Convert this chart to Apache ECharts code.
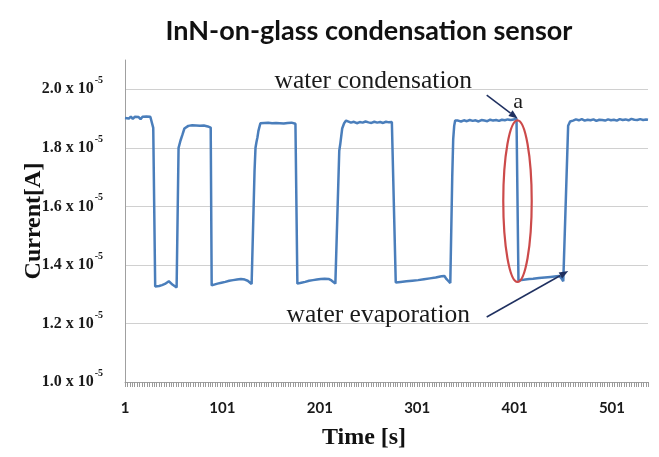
<!DOCTYPE html>
<html><head><meta charset="utf-8">
<script src="https://cdn.jsdelivr.net/npm/echarts@6/dist/echarts.min.js"></script>
<style>html,body{margin:0;padding:0;background:#fff}#c{width:659px;height:457px}</style>
</head><body><div id="c"></div>
<script>
// ---- data (time in s, current in units of 1e-5 A) ----
const timeS = [
  1,3,5,7,9,11,13,15,17,19,21,23,25,27,29,30,31,
  32,36,39,42,44,46,48,50,52,54,55,
  56,58,60,62,63,
  66,68,70,72,74,76,78,80,82,84,86,88,89,
  90,92,96,100,104,108,112,116,120,124,127,129,131,133,
  134,135,136,137,138,140,
  142,144,146,148,150,152,154,156,158,160,162,164,166,168,170,172,174,176,177,
  178,182,186,190,194,198,202,206,210,213,215,217,219,
  221,222,224,226,228,
  230,233,236,239,242,245,248,251,254,257,260,263,266,269,272,275,277,
  279,284,290,296,302,308,314,320,326,329,331,333,335,336,
  337,338,339,340,
  343,346,349,352,355,358,361,364,367,370,373,376,379,382,385,388,391,394,397,400,403,404,
  405,408,412,416,420,426,432,438,444,447,449,451,452,
  456,458,
  461,464,467,470,473,476,479,482,485,488,491,494,497,500,503,506,509,512,515,518,521,524,527,530,533,536,538
];
const currentE5 = [
  1.902,1.906,1.900,1.907,1.899,1.906,1.901,1.905,1.898,1.906,1.902,1.907,1.903,1.906,1.904,1.868,1.864,
  1.326,1.328,1.331,1.335,1.340,1.344,1.338,1.332,1.328,1.323,1.321,
  1.800,1.825,1.845,1.866,1.872,
  1.875,1.874,1.877,1.874,1.876,1.873,1.875,1.874,1.876,1.872,1.873,1.871,1.869,
  1.330,1.332,1.336,1.339,1.342,1.346,1.348,1.350,1.352,1.350,1.346,1.341,1.335,1.330,
  1.720,1.800,1.820,1.836,1.858,1.884,
  1.888,1.885,1.890,1.886,1.889,1.884,1.887,1.885,1.889,1.884,1.887,1.883,1.887,1.885,1.884,1.886,1.883,1.882,1.880,
  1.336,1.339,1.342,1.346,1.348,1.350,1.352,1.353,1.352,1.347,1.342,1.336,1.330,
  1.790,1.812,1.866,1.884,1.893,
  1.890,1.886,1.889,1.884,1.888,1.886,1.890,1.887,1.885,1.889,1.886,1.888,1.885,1.889,1.887,1.888,1.886,
  1.340,1.342,1.344,1.346,1.348,1.351,1.354,1.357,1.361,1.362,1.352,1.345,1.338,1.335,
  1.700,1.830,1.875,1.893,
  1.893,1.890,1.894,1.891,1.895,1.892,1.894,1.890,1.895,1.893,1.891,1.896,1.893,1.895,1.892,1.896,1.894,1.897,1.895,1.897,1.899,1.900,
  1.347,1.348,1.350,1.352,1.353,1.355,1.357,1.359,1.361,1.362,1.355,1.344,1.340,
  1.875,1.890,
  1.893,1.897,1.894,1.898,1.893,1.896,1.894,1.897,1.892,1.896,1.895,1.893,1.897,1.894,1.896,1.893,1.898,1.895,1.897,1.894,1.899,1.896,1.895,1.898,1.895,1.897,1.896
];
const yTickLabels = [1.0, 1.2, 1.4, 1.6, 1.8, 2.0];
const xTickLabels = [1, 101, 201, 301, 401, 501];
const chartTitle = 'InN-on-glass condensation sensor';
const xName = 'Time [s]';
const yName = 'Current[A]';
const condensationText = 'water condensation';
const evaporationText = 'water evaporation';
const markLetter = 'a';

// ---- annotation anchors (data coordinates) ----
const ellipseCenter = [404.0, 1.618];
const ellipseHalf = [14.6, 0.276];
const condArrow = [[372.4, 1.980], [404.2, 1.900]];
const evapArrow = [[372.4, 1.222], [456.1, 1.379]];
const letterPos = [404.6, 1.957];
const condTextPos = [357.3, 1.984];
const evapTextPos = [355.2, 1.185];

const pts = timeS.map((t, i) => [t, currentE5[i]]);
const serif = '"Liberation Serif", "Times New Roman", serif';
const sans = 'Lato, "Open Sans", sans-serif';

const chart = echarts.init(document.getElementById('c'), null, {renderer: 'canvas'});
chart.setOption({
  animation: false,
  backgroundColor: '#fff',
  title: {
    text: chartTitle, left: 364, top: 13, textAlign: 'center',
    textStyle: {fontFamily: sans, fontWeight: 'bold', fontSize: 27, color: '#111'}
  },
  grid: {left: 125, right: 11, top: 60, bottom: 75},
  xAxis: {
    type: 'value', min: 1, max: 538, interval: 2.5,
    name: xName, nameLocation: 'middle', nameGap: 44, nameMoveOverlap: false,
    nameTextStyle: {fontFamily: serif, fontWeight: 'bold', fontSize: 24, color: '#111', padding: [0, 45, 0, 0]},
    axisLine: {show: true, lineStyle: {color: '#a0a0a0', width: 1}},
    axisTick: {show: true, length: 5, lineStyle: {color: '#9a9a9a', width: 1}},
    splitLine: {show: false},
    axisLabel: {
      margin: 19, fontFamily: sans, fontWeight: 'bold', fontSize: 15, color: '#1a1a1a',
      formatter: v => {
        const r = Math.round(v);
        return (Math.abs(v - r) < 1e-6 && xTickLabels.includes(r)) ? String(r) : '';
      }
    }
  },
  yAxis: {
    type: 'value', min: 1.0, max: 2.1, interval: 0.2,
    name: yName, nameLocation: 'middle', nameGap: 79, nameRotate: 90, nameMoveOverlap: false,
    nameTextStyle: {fontFamily: serif, fontWeight: 'bold', fontSize: 24, color: '#111'},
    axisLine: {show: true, lineStyle: {color: '#a0a0a0', width: 1}},
    axisTick: {show: false},
    splitLine: {show: true, showMaxLine: false, lineStyle: {color: '#d0d0d0', width: 1.2}},
    axisLabel: {
      margin: 22,
      formatter: v => {
        const hit = yTickLabels.find(t => Math.abs(t - v) < 1e-6);
        return hit === undefined ? '' : '{m|' + hit.toFixed(1) + ' x 10}{s|-5}';
      },
      rich: {
        m: {fontFamily: serif, fontWeight: 'bold', fontSize: 16, color: '#1a1a1a', lineHeight: 16},
        s: {fontFamily: serif, fontWeight: 'bold', fontSize: 10, color: '#1a1a1a', lineHeight: 10, padding: [0, 0, 17, 1]}
      }
    }
  },
  series: [{
    type: 'line', data: pts, showSymbol: false, symbol: 'none',
    lineStyle: {color: '#4a7ebb', width: 2.5}, z: 3
  }]
});

const P = (d) => chart.convertToPixel({gridIndex: 0}, d);
function arrow(a, b, color) {
  const p0 = P(a), p1 = P(b);
  const ang = Math.atan2(p1[1] - p0[1], p1[0] - p0[0]);
  const L = 9, W = 3.5;
  const bx = p1[0] - L * Math.cos(ang), by = p1[1] - L * Math.sin(ang);
  const nx = -Math.sin(ang) * W, ny = Math.cos(ang) * W;
  return [
    {type: 'line', z: 20, shape: {x1: p0[0], y1: p0[1], x2: bx, y2: by}, style: {stroke: color, lineWidth: 1.5}},
    {type: 'polygon', z: 20, shape: {points: [[p1[0], p1[1]], [bx + nx, by + ny], [bx - nx, by - ny]]}, style: {fill: color}}
  ];
}
const c = P(ellipseCenter);
const e1 = P([ellipseCenter[0] + ellipseHalf[0], ellipseCenter[1] + ellipseHalf[1]]);
const lp = P(letterPos), ct = P(condTextPos), et = P(evapTextPos);
const navy = '#1f3060';
chart.setOption({
  graphic: [
    {type: 'ellipse', z: 15, shape: {cx: c[0], cy: c[1], rx: Math.abs(e1[0] - c[0]), ry: Math.abs(e1[1] - c[1])},
     style: {fill: 'none', stroke: '#cc4a4a', lineWidth: 2.2}},
    ...arrow(condArrow[0], condArrow[1], navy),
    ...arrow(evapArrow[0], evapArrow[1], navy),
    {type: 'text', z: 21, x: lp[0], y: lp[1], style: {text: markLetter, font: '22px ' + serif, fill: '#1a1a1a', align: 'center', verticalAlign: 'middle'}},
    {type: 'text', z: 21, x: ct[0], y: ct[1], style: {text: condensationText, font: '25.5px ' + serif, fill: '#1a1a1a', align: 'right', verticalAlign: 'bottom'}},
    {type: 'text', z: 21, x: et[0], y: et[1], style: {text: evaporationText, font: '25.5px ' + serif, fill: '#1a1a1a', align: 'right', verticalAlign: 'bottom'}}
  ]
});
</script>
</body></html>
